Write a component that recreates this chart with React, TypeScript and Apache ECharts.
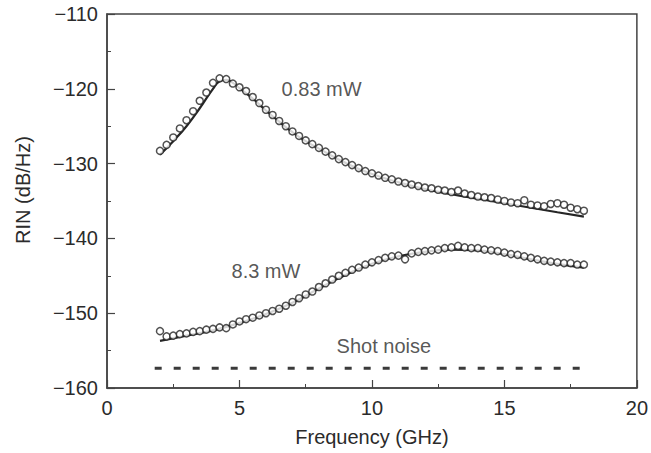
import React, { useEffect, useRef } from "react";
import * as echarts from "echarts";

// Measured frequencies (GHz)
const freqs = [
  2, 2.25, 2.5, 2.75, 3, 3.25, 3.5, 3.75, 4, 4.25, 4.5, 4.75, 5, 5.25, 5.5, 5.75,
  6, 6.25, 6.5, 6.75, 7, 7.25, 7.5, 7.75, 8, 8.25, 8.5, 8.75, 9, 9.25, 9.5, 9.75,
  10, 10.25, 10.5, 10.75, 11, 11.25, 11.5, 11.75, 12, 12.25, 12.5, 12.75, 13, 13.25,
  13.5, 13.75, 14, 14.25, 14.5, 14.75, 15, 15.25, 15.5, 15.75, 16, 16.25, 16.5, 16.75,
  17, 17.25, 17.5, 17.75, 18,
];

// RIN at 0.83 mW (measured, dB/Hz)
const rinLow = [
  -128.3, -127.5, -126.5, -125.3, -124.2, -123.0, -121.6, -120.5, -119.2, -118.6, -118.7, -119.3,
  -119.8, -120.3, -121.1, -121.9, -122.8, -123.5, -124.3, -125.0, -125.7, -126.3, -126.9, -127.4,
  -127.9, -128.4, -128.9, -129.4, -129.8, -130.2, -130.6, -131.0, -131.3, -131.6, -131.9, -132.1,
  -132.4, -132.6, -132.8, -133.0, -133.2, -133.3, -133.5, -133.6, -133.8, -133.6, -134.0, -134.2,
  -134.4, -134.5, -134.6, -134.8, -135.0, -135.2, -135.3, -134.9, -135.5, -135.6, -135.7, -135.4,
  -135.3, -135.5, -135.9, -136.1, -136.3,
];

// RIN at 8.3 mW (measured, dB/Hz)
const rinHigh = [
  -152.4, -153.1, -153.0, -152.8, -152.7, -152.5, -152.4, -152.2, -152.1, -151.9, -152.0, -151.5,
  -151.1, -150.8, -150.6, -150.3, -150.0, -149.7, -149.4, -149.0, -148.5, -148.0, -147.5, -147.1,
  -146.5, -146.0, -145.5, -145.0, -144.6, -144.2, -143.9, -143.5, -143.2, -142.9, -142.6, -142.4,
  -142.3, -142.8, -142.0, -141.8, -141.7, -141.6, -141.5, -141.3, -141.2, -141.0, -141.2, -141.3,
  -141.3, -141.5, -141.6, -141.7, -141.9, -142.1, -142.2, -142.4, -142.6, -142.8, -143.0, -143.1,
  -143.2, -143.3, -143.3, -143.5, -143.5,
];

// Fitted curves
const fitLowX = [2, 2.5, 3, 3.5, 4, 4.25, 4.5, 4.75, 5, 5.5, 6, 6.5, 7, 7.5, 8, 9, 10, 11, 12, 13, 14, 15, 16, 17, 18];
const fitLowY = [
  -128.8, -127.0, -125.0, -122.6, -120.0, -119.0, -118.8, -119.2, -119.9, -121.3, -122.9, -124.4,
  -125.8, -127.0, -128.0, -129.9, -131.4, -132.5, -133.4, -134.1, -134.7, -135.3, -135.9, -136.5, -137.1,
];
const fitHighX = [2, 3, 4, 5, 6, 7, 8, 9, 10, 11, 12, 13, 14, 15, 16, 17, 18];
const fitHighY = [
  -153.7, -153.0, -152.3, -151.3, -150.1, -148.6, -146.7, -144.9, -143.4, -142.4, -141.8, -141.5,
  -141.6, -142.1, -142.8, -143.4, -143.9,
];

// Shot noise level
const shotX = [1.8, 17.9];
const shotY = [-157.35, -157.35];

// Annotations
const noteText = ["0.83 mW", "8.3 mW", "Shot noise"];
const noteX = [8.1, 6.0, 10.45];
const noteY = [-120.0, -144.3, -154.45];

const FONT = "'Liberation Sans', Arial, Helvetica, sans-serif";
const TXT = "#2b2b2b";
const INK = "#262626";

export default function App() {
  const ref = useRef<HTMLDivElement>(null);
  useEffect(() => {
    if (!ref.current) return;
    const chart = echarts.init(ref.current, null, { renderer: "svg" });
    const zip = (xs: number[], ys: number[]) => xs.map((x, i) => [x, ys[i]]);
    chart.setOption({
      animation: false,
      backgroundColor: "#ffffff",
      grid: {
        left: 107,
        right: 10,
        top: 14,
        bottom: 65,
        show: true,
        borderColor: "#444",
        borderWidth: 1.5,
        backgroundColor: "transparent",
      },
      xAxis: {
        type: "value",
        min: 0,
        max: 20,
        interval: 5,
        name: "Frequency (GHz)",
        nameLocation: "middle",
        nameGap: 39,
        nameTextStyle: { fontFamily: FONT, fontSize: 20, color: TXT },
        axisLine: { show: true, lineStyle: { color: "#444", width: 1.5 } },
        axisTick: { show: true, inside: true, length: 8, lineStyle: { color: "#444", width: 1.2 } },
        minorTick: { show: true, splitNumber: 2, length: 4, lineStyle: { color: "#444", width: 1 } },
        axisLabel: { fontFamily: FONT, fontSize: 20, color: TXT, margin: 10 },
        splitLine: { show: false },
      },
      yAxis: {
        type: "value",
        min: -160,
        max: -110,
        interval: 10,
        name: "RIN (dB/Hz)",
        nameLocation: "middle",
        nameGap: 74,
        nameTextStyle: { fontFamily: FONT, fontSize: 20, color: TXT, padding: [0, 0, 0, 22] },
        axisLine: { show: true, lineStyle: { color: "#444", width: 1.5 } },
        axisTick: { show: true, inside: true, length: 8, lineStyle: { color: "#444", width: 1.2 } },
        minorTick: { show: true, splitNumber: 2, length: 4, lineStyle: { color: "#444", width: 1 } },
        axisLabel: {
          fontFamily: FONT,
          fontSize: 20,
          color: TXT,
          margin: 9,
          formatter: (v: number) => String(v).replace("-", "\u2212"),
        },
        splitLine: { show: false },
      },
      series: [
        {
          name: "Fit 0.83 mW",
          type: "line",
          data: zip(fitLowX, fitLowY),
          smooth: true,
          showSymbol: false,
          lineStyle: { color: INK, width: 2.2 },
          z: 2,
        },
        {
          name: "Fit 8.3 mW",
          type: "line",
          data: zip(fitHighX, fitHighY),
          smooth: true,
          showSymbol: false,
          lineStyle: { color: INK, width: 2.2 },
          z: 2,
        },
        {
          name: "0.83 mW",
          type: "scatter",
          data: zip(freqs, rinLow),
          symbol: "circle",
          symbolSize: 7,
          itemStyle: { color: "#ffffff", borderColor: INK, borderWidth: 1.5 },
          z: 3,
        },
        {
          name: "8.3 mW",
          type: "scatter",
          data: zip(freqs, rinHigh),
          symbol: "circle",
          symbolSize: 7,
          itemStyle: { color: "#ffffff", borderColor: INK, borderWidth: 1.5 },
          z: 3,
        },
        {
          name: "Shot noise",
          type: "line",
          data: zip(shotX, shotY),
          showSymbol: false,
          lineStyle: { color: "#3a3a3a", width: 3, type: [7, 12] },
          z: 2,
        },
        {
          name: "Annotations",
          type: "scatter",
          data: noteText.map((t, i) => ({ value: [noteX[i], noteY[i]], name: t })),
          symbolSize: 0,
          silent: true,
          label: {
            show: true,
            position: "inside",
            formatter: (p: any) => p.name,
            fontFamily: FONT,
            fontSize: 20,
            color: TXT,
          },
          z: 4,
        },
      ],
    });
    return () => chart.dispose();
  }, []);
  return (
    <div
      ref={ref}
      style={{ position: "absolute", left: 0, top: 0, width: 651, height: 453, background: "#fff" }}
    />
  );
}
